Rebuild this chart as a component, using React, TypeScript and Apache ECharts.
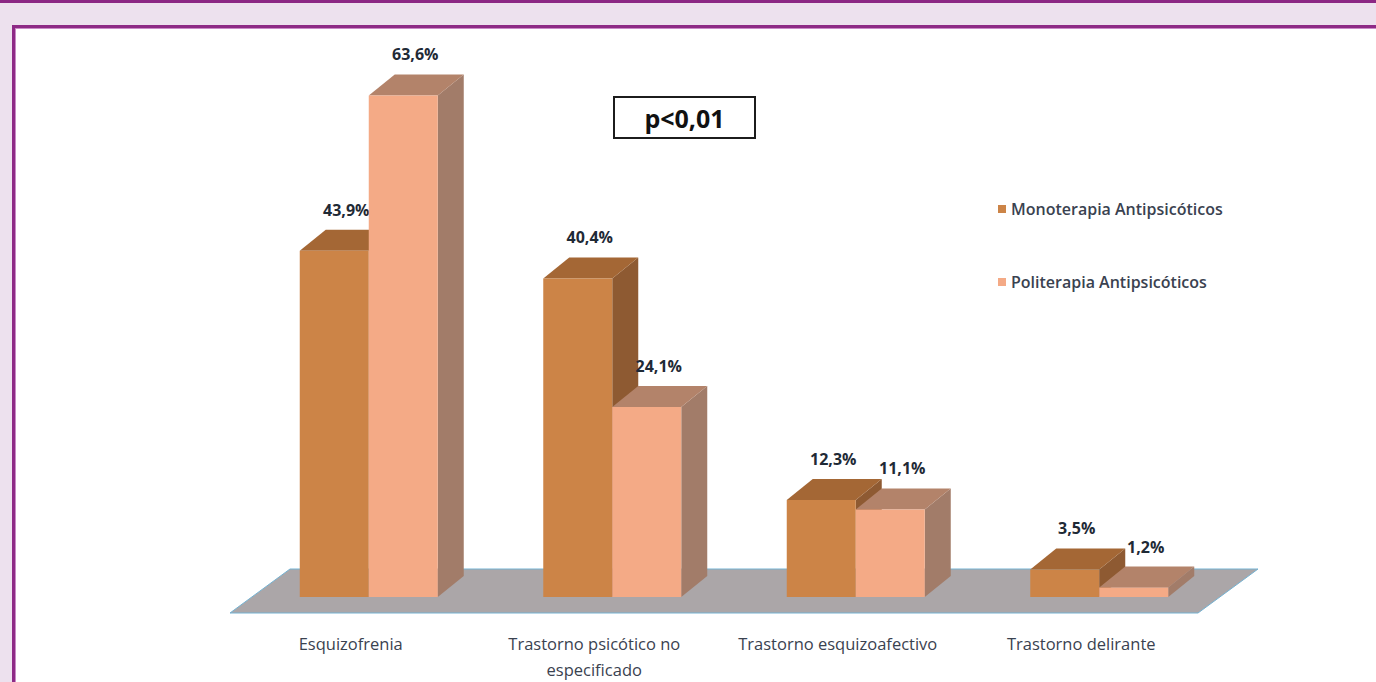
import React, { useEffect, useRef } from "react";
import * as echarts from "echarts";

// Diagnoses on the category axis
const categories = [
  "Esquizofrenia",
  "Trastorno psicótico no\nespecificado",
  "Trastorno esquizoafectivo",
  "Trastorno delirante",
];
// Percent of patients per treatment group
const monoterapia = [43.9, 40.4, 12.3, 3.5];
const politerapia = [63.6, 24.1, 11.1, 1.2];
const seriesNames = ["Monoterapia Antipsicóticos", "Politerapia Antipsicóticos"];
const significance = "p<0,01";

// Pseudo-3D bar geometry
const DEPTH_X = 26;
const DEPTH_Y = 21;
const BAR_FRACTION = 69 / 243.5;

const FONT = "'Open Sans', 'Noto Sans', sans-serif";
const TEXT_COLOR = "#3a4250";

const palettes = [
  { front: "#CC8447", top: "#A46735", side: "#8E5A32" },
  { front: "#F4AA86", top: "#B3836A", side: "#A27C69" },
];

const fmt = (v: number) => v.toFixed(1).replace(".", ",") + "%";

function makeRender(seriesIndex: number) {
  const c = palettes[seriesIndex];
  return (params: any, api: any) => {
    const cat = api.value(0);
    const val = api.value(1);
    const base = api.coord([cat, 0]);
    const top = api.coord([cat, val]);
    const band = api.size([1, 0])[0];
    const w = band * BAR_FRACTION;
    const x0 = base[0] - w + seriesIndex * w;
    const x1 = x0 + w;
    const yB = base[1];
    const yT = top[1];
    return {
      type: "group",
      children: [
        {
          type: "polygon",
          shape: {
            points: [
              [x1, yT],
              [x1 + DEPTH_X, yT - DEPTH_Y],
              [x1 + DEPTH_X, yB - DEPTH_Y],
              [x1, yB],
            ],
          },
          style: { fill: c.side },
        },
        {
          type: "polygon",
          shape: {
            points: [
              [x0, yT],
              [x1, yT],
              [x1 + DEPTH_X, yT - DEPTH_Y],
              [x0 + DEPTH_X, yT - DEPTH_Y],
            ],
          },
          style: { fill: c.top },
        },
        {
          type: "rect",
          shape: { x: x0, y: yT, width: w, height: yB - yT },
          style: { fill: c.front },
        },
        {
          type: "text",
          z2: 10,
          style: {
            text: fmt(val),
            x: (x0 + x1) / 2 + 12,
            y: yT - 41,
            align: "center",
            verticalAlign: "middle",
            fontFamily: FONT,
            fontWeight: "bold",
            fontSize: 16,
            fill: "#1f2a36",
          },
        },
      ],
    };
  };
}

export default function App() {
  const ref = useRef<HTMLDivElement>(null);

  useEffect(() => {
    if (!ref.current) return;
    const chart = echarts.init(ref.current, null, { renderer: "svg" });
    const FLOOR_LINE = "#74b2d2";
    chart.setOption({
      animation: false,
      backgroundColor: "#ffffff",
      grid: { left: 247, right: 155, top: 45, bottom: 81 },
      xAxis: {
        type: "category",
        data: categories,
        axisLine: { show: false },
        axisTick: { show: false },
        axisLabel: {
          interval: 0,
          margin: 33,
          fontFamily: FONT,
          fontSize: 16.5,
          fontWeight: 500,
          lineHeight: 26,
          color: TEXT_COLOR,
          padding: [0, 36, 0, 0],
        },
      },
      yAxis: {
        type: "value",
        min: 0,
        max: 70,
        show: false,
        splitLine: { show: false },
      },
      legend: {
        orient: "vertical",
        left: 993,
        top: 196,
        icon: "rect",
        itemWidth: 8,
        itemHeight: 8,
        itemGap: 57,
        textStyle: { fontFamily: FONT, fontSize: 16, fontWeight: 600, color: TEXT_COLOR },
        data: seriesNames,
      },
      graphic: [
        // page frame
        { type: "rect", z: 0, shape: { x: 0, y: 0, width: 1376, height: 25 }, style: { fill: "#EDE1EE" } },
        { type: "rect", z: 0, shape: { x: 0, y: 0, width: 12, height: 682 }, style: { fill: "#EDE1EE" } },
        { type: "rect", z: 0, shape: { x: 0, y: 0, width: 1376, height: 3 }, style: { fill: "#8C2784" } },
        { type: "rect", z: 0, shape: { x: 12, y: 25, width: 1364, height: 3 }, style: { fill: "#8E2A86" } },
        { type: "rect", z: 0, shape: { x: 12, y: 25, width: 3, height: 657 }, style: { fill: "#8E2A86" } },
        { type: "rect", z: 0, shape: { x: 15, y: 28, width: 1361, height: 1 }, style: { fill: "#C98AC6" } },
        { type: "rect", z: 0, shape: { x: 15, y: 28, width: 1, height: 654 }, style: { fill: "#C98AC6" } },
        // floor
        {
          type: "polygon",
          z: 0,
          shape: { points: [[230, 613], [290, 569], [1258, 569], [1198, 613]] },
          style: { fill: "#ABA6A8", stroke: FLOOR_LINE, lineWidth: 1 },
        },
        // significance box
        {
          type: "rect",
          z: 0,
          shape: { x: 614, y: 97, width: 141, height: 41 },
          style: { fill: "#ffffff", stroke: "#1c1c1c", lineWidth: 2 },
        },
        {
          type: "text",
          z: 1,
          style: {
            text: significance,
            x: 684.5,
            y: 118,
            align: "center",
            verticalAlign: "middle",
            fontFamily: FONT,
            fontWeight: "bold",
            fontSize: 25,
            fill: "#111111",
          },
        },
      ],
      series: [
        {
          name: seriesNames[0],
          type: "custom",
          z: 2,
          itemStyle: { color: palettes[0].front },
          renderItem: makeRender(0),
          encode: { x: 0, y: 1 },
          data: monoterapia.map((v, i) => [i, v]),
        },
        {
          name: seriesNames[1],
          type: "custom",
          z: 3,
          itemStyle: { color: palettes[1].front },
          renderItem: makeRender(1),
          encode: { x: 0, y: 1 },
          data: politerapia.map((v, i) => [i, v]),
        },
      ],
    });
    return () => chart.dispose();
  }, []);

  return (
    <div
      ref={ref}
      style={{ position: "fixed", left: 0, top: 0, width: 1376, height: 682 }}
    />
  );
}
